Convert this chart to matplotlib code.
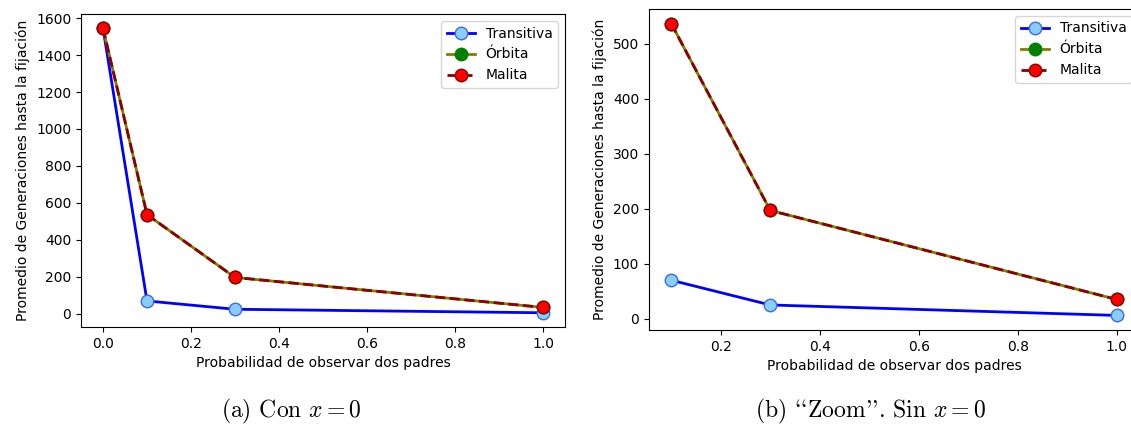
import matplotlib

matplotlib.use("Agg")
import matplotlib.pyplot as plt

# probabilidad de observar dos padres
prob = [0.0, 0.1, 0.3, 1.0]

# promedio de generaciones hasta la fijación
transitiva = [1545, 70, 25, 6]
orbita = [1545, 537, 197, 35]
malita = [1545, 537, 197, 35]

# cmr10 turns `` and '' into curly quotes
captions = ["(a) Con $x = 0$", "(b) ``Zoom''. Sin $x = 0$"]

plt.rcParams["mathtext.fontset"] = "cm"

W, H = 1131, 428
fig = plt.figure(figsize=(W / 100, H / 100), dpi=100)
ax1 = fig.add_axes([81 / W, 1 - 327 / H, (565 - 81) / W, (327 - 14) / H])
ax2 = fig.add_axes([649 / W, 1 - 330 / H, (1139 - 649) / W, (330 - 9) / H])


def draw(ax, xs, t, o, m):
    ax.plot(xs, t, color="blue", lw=2, marker="o", ms=9,
            mfc="lightskyblue", mec="royalblue", label="Transitiva")
    ax.plot(xs, o, color="olive", lw=2, marker="o", ms=9,
            mfc="green", mec="green", label="Órbita")
    ax.plot(xs, m, color="darkred", lw=2, ls="--", marker="o", ms=9,
            mfc="red", mec="darkred", label="Malita")
    ax.set_xlabel("Probabilidad de observar dos padres")
    ax.set_ylabel("Promedio de Generaciones hasta la fijación")
    ax.legend(loc="upper right")


draw(ax1, prob, transitiva, orbita, malita)
# sin el punto x = 0
draw(ax2, prob[1:], transitiva[1:], orbita[1:], malita[1:])
ax2.set_xticks([0.2, 0.4, 0.6, 0.8, 1.0])

for xc, cap in zip([291, 871], captions):
    fig.text(xc / W, 1 - 411 / H, cap, ha="center", va="center",
             fontsize=17, family="cmr10")

fig.savefig("out.png", dpi=100)
plt.close(fig)
